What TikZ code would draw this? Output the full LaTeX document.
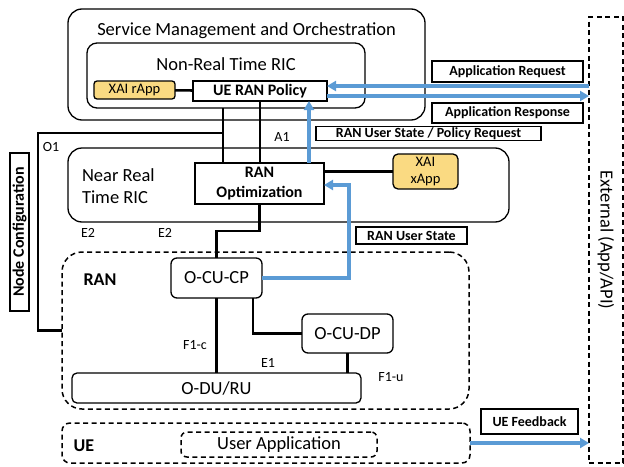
\documentclass[tikz,border=0pt]{standalone}
\usepackage{fontspec}
\setmainfont{Carlito}
\usetikzlibrary{arrows.meta}
\definecolor{xaiyellow}{RGB}{250,218,130}
\definecolor{flowblue}{RGB}{91,155,213}
\begin{document}
\begin{tikzpicture}[x=1pt,y=-1pt,
  every node/.style={inner sep=0pt, outer sep=0pt},
  frame/.style={draw, line width=1.3pt, rounded corners=#1},
  frame/.default=6pt,
  dbox/.style={draw, line width=1.5pt, dash pattern=on 5pt off 3.5pt, rounded corners=#1},
  dbox/.default=8pt,
  tag/.style={draw, fill=white, line width=1.1pt, font=\fontsize{14}{14}\selectfont\bfseries},
  wire/.style={line width=2.6pt},
  flow/.style={draw=flowblue, line width=3.2pt, -{Triangle[length=9pt,width=10pt]}},
  big/.style={font=\fontsize{18.5}{22.5}\selectfont},
  lbl/.style={font=\fontsize{14}{14}\selectfont}]
\useasboundingbox (0,0) rectangle (624,466);
% orchestration and non real time RIC
\node[frame=14pt, minimum width=357pt, minimum height=111pt] (smo) at (246.5,64.5) {};
\node[big] (smotitle) at (246.5,31) {Service Management and Orchestration};
\node[frame=10pt, minimum width=278pt, minimum height=65pt] (nrt) at (226,75.5) {};
\node[big] (nrttitle) at (226,64) {Non-Real Time RIC};
\node[frame=3pt, fill=xaiyellow, minimum width=81pt, minimum height=18pt, font=\fontsize{14.5}{16}\selectfont] (rapp) at (134.5,90) {XAI rApp};
\node[frame=0pt, fill=white, minimum width=134pt, minimum height=20pt, font=\fontsize{16}{18}\selectfont\bfseries] (policy) at (260,91) {UE RAN Policy};
% near real time RIC
\node[frame=14pt, minimum width=441pt, minimum height=74pt] (near) at (288.5,185) {};
\node[big, anchor=west, align=left] (neartxt) at (82,186) {Near Real\\Time RIC};
\node[frame=0pt, fill=white, minimum width=129pt, minimum height=41pt, align=center, font=\fontsize{16}{19.5}\selectfont\bfseries] (ranopt) at (259.5,183.5) {RAN\\Optimization};
\node[frame=5pt, fill=xaiyellow, minimum width=65pt, minimum height=35pt, align=center, font=\fontsize{14.5}{17}\selectfont] (xapp) at (425.5,171.5) {XAI\\xApp};
% RAN
\node[dbox=20pt, minimum width=407pt, minimum height=157pt] (ran) at (265.5,330.5) {};
\node[font=\fontsize{18}{20}\selectfont\bfseries] (rantxt) at (100,280) {RAN};
\node[frame=6pt, fill=white, minimum width=91pt, minimum height=40pt, big] (ocucp) at (216.5,278) {O-CU-CP};
\node[frame=6pt, fill=white, minimum width=91pt, minimum height=39pt, big] (ocudp) at (347.5,333.5) {O-CU-DP};
\node[frame=5pt, fill=white, minimum width=289pt, minimum height=30pt, big] (odu) at (216.5,388) {O-DU/RU};
% UE
\node[dbox=8pt, minimum width=408pt, minimum height=40pt] (ue) at (266,443) {};
\node[font=\fontsize{18}{20}\selectfont\bfseries] (uetxt) at (84,446) {UE};
\node[dbox=6pt, minimum width=196pt, minimum height=25pt, big] (userapp) at (279,444.5) {User Application};
% external
\node[dbox=0pt, minimum width=34pt, minimum height=446pt] (ext) at (606,240) {};
\node[big, rotate=-90] (exttxt) at (ext) {External (App/API)};
% message tags
\node[tag, minimum width=151pt, minimum height=21pt] (appreq) at (507.5,71.5) {Application Request};
\node[tag, minimum width=151pt, minimum height=20pt] (appresp) at (507.5,113) {Application Response};
\node[tag, minimum width=225pt, minimum height=13.5pt] (ranpol) at (428.5,133.5) {RAN User State / Policy Request};
\node[tag, minimum width=111pt, minimum height=17pt] (ranusr) at (411.5,235.5) {RAN User State};
\node[tag, minimum width=97pt, minimum height=25pt] (uefb) at (529.5,421.5) {UE Feedback};
\node[tag, rotate=90, minimum width=158pt, minimum height=19pt, font=\fontsize{16}{16}\selectfont\bfseries] (nodecfg) at (19.5,232) {Node Configuration};
% interface labels
\foreach \txt/\x/\y [count=\i] in {O1/51/147, A1/282/137, E2/88/233, E2/165/233, F1-c/195/345, E1/268/363, F1-u/391/377}
  \node[lbl] (lbl\i) at (\x,\y) {\txt};
% wires
\coordinate (o1) at (223,133);
\coordinate (a1) at (309,0);
\draw[wire] (rapp) -- (policy);
\draw[wire] (policy.south) -- (policy.south |- ranopt.north);
\draw[wire] (o1 |- nrt.south) -- (o1 |- ranopt.north);
\draw[wire] (o1) -- (38,133) |- (ran.west);
\draw[wire] (xapp.west -| ranopt.east) -- (xapp.west);
\draw[wire] (ranopt.south) -- ++(0,27) -| (ocucp.north);
\draw[wire] (ocucp.south) -- (ocucp.south |- odu.north);
\draw[wire] ([xshift=36.5pt]ocucp.south) |- (ocudp.west);
\draw[wire] (ocudp.south) -- (ocudp.south |- odu.north);
% flows
\draw[flow] (a1 |- ranopt.north) -- (a1 |- policy.south);
\draw[flow] (ext.west |- 0,86) -- (policy.east |- 0,86);
\draw[flow] (policy.east |- 0,96) -- (ext.west |- 0,96);
\draw[flow] (ocucp.east) -| (349,185) -- (ranopt.east |- 0,185);
\draw[flow] (ue.east) -- (ext.west |- ue.east);
%\draw[step=10pt, very thin, gray] (0,0) grid (624,466);
\end{tikzpicture}
\end{document}
